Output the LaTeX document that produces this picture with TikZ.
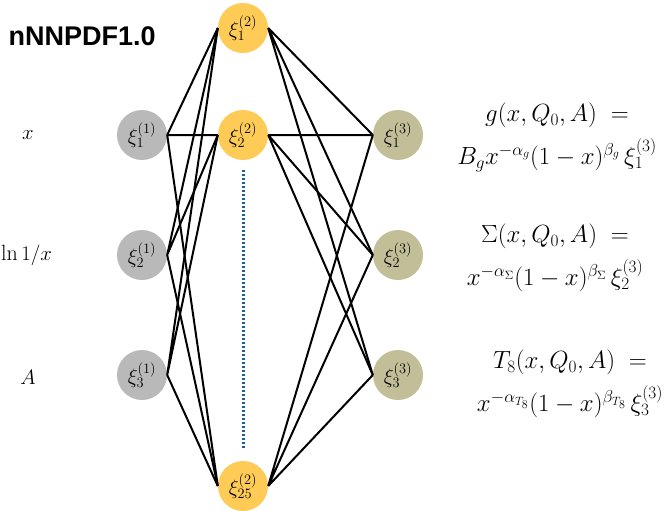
\documentclass[tikz,border=0pt]{standalone}
\usepackage{fontspec}
\newfontfamily\titlefont{Liberation Sans}
\usetikzlibrary{positioning}

\begin{document}
\begin{tikzpicture}[
  x=1pt, y=-1pt,
  neuron/.style={
    circle, minimum size=50pt, inner sep=0pt, font=\fontsize{21}{24}\selectfont
  },
  inlayer/.style={neuron, fill=gray!55},
  hidlayer/.style={neuron, fill=hidyellow},
  outlayer/.style={neuron, fill=outolive},
  link/.style={line width=2pt},
  varlabel/.style={font=\fontsize{22}{26}\selectfont},
  pdfeq/.style={align=center, font=\fontsize{26}{43}\selectfont}
]
\definecolor{hidyellow}{HTML}{FECB57}
\definecolor{outolive}{HTML}{C2BE97}
\definecolor{dotblue}{HTML}{1D5E8C}

\useasboundingbox (0,0) rectangle (664,511);

% geometry
\def\xin{142}     % input column
\def\xhid{243}    % hidden column
\def\xout{398}    % output column

% title
\node[font=\titlefont\bfseries\fontsize{27}{30}\selectfont, anchor=west] (title) at (5,36) {nNNPDF1.0};

% input layer
\node[inlayer] (i1) at (\xin,135) {$\xi_1^{(1)}$};
\node[inlayer] (i2) at (\xin,255) {$\xi_2^{(1)}$};
\node[inlayer] (i3) at (\xin,375) {$\xi_3^{(1)}$};

% input labels
\node[varlabel] (lx) at (28,135) {$x$};
\node[varlabel, anchor=west, inner sep=0pt] (llog) at (1,255) {$\ln 1/x$};
\node[varlabel] (lA) at (28,377) {$A$};

% hidden layer
\node[hidlayer] (h1) at (\xhid,28) {$\xi_1^{(2)}$};
\node[hidlayer] (h2) at (\xhid,135) {$\xi_2^{(2)}$};
\node[hidlayer] (h25) at (\xhid,486) {$\xi_{25}^{(2)}$};

% output layer
\node[outlayer] (o1) at (\xout,135) {$\xi_1^{(3)}$};
\node[outlayer] (o2) at (\xout,255) {$\xi_2^{(3)}$};
\node[outlayer] (o3) at (\xout,375) {$\xi_3^{(3)}$};

% dots for the hidden nodes not shown
\draw[dotblue, line width=3pt, dash pattern=on 2pt off 2pt] (h2.south) ++(0,10) coordinate (dtop) -- (h25.north |- 0,450) coordinate (dbot);

% input -> hidden
\draw[link] (i1.east) -- (h1.west) (i1.east) -- (h2.west) (i1.east) -- (h25.west);
\draw[link] (i2.east) -- (h1.west) (i2.east) -- (h2.west) (i2.east) -- (h25.west);
\draw[link] (i3.east) -- (h1.west) (i3.east) -- (h2.west) (i3.east) -- (h25.west);

% hidden -> output
\draw[link] (h1.east) -- (o1.west) (h1.east) -- (o2.west) (h1.east) -- (o3.west);
\draw[link] (h2.east) -- (o1.west) (h2.east) -- (o2.west) (h2.east) -- (o3.west);
\draw[link] (h25.east) -- (o1.west) (h25.east) -- (o2.west) (h25.east) -- (o3.west);

% parametrisation at the input scale
\node[pdfeq] (eqg) at (557,137) {$g(x,Q_0,A)\;=$\\ $B_g x^{-\alpha_g}(1-x)^{\beta_g}\,\xi_1^{(3)}$};
\node[pdfeq] (eqs) at (555,258) {$\Sigma(x,Q_0,A)\;=$\\ $x^{-\alpha_\Sigma}(1-x)^{\beta_\Sigma}\,\xi_2^{(3)}$};
\node[pdfeq] (eqt) at (570,384) {$T_8(x,Q_0,A)\;=$\\ $x^{-\alpha_{T_8}}(1-x)^{\beta_{T_8}}\,\xi_3^{(3)}$};

\end{tikzpicture}
\end{document}
